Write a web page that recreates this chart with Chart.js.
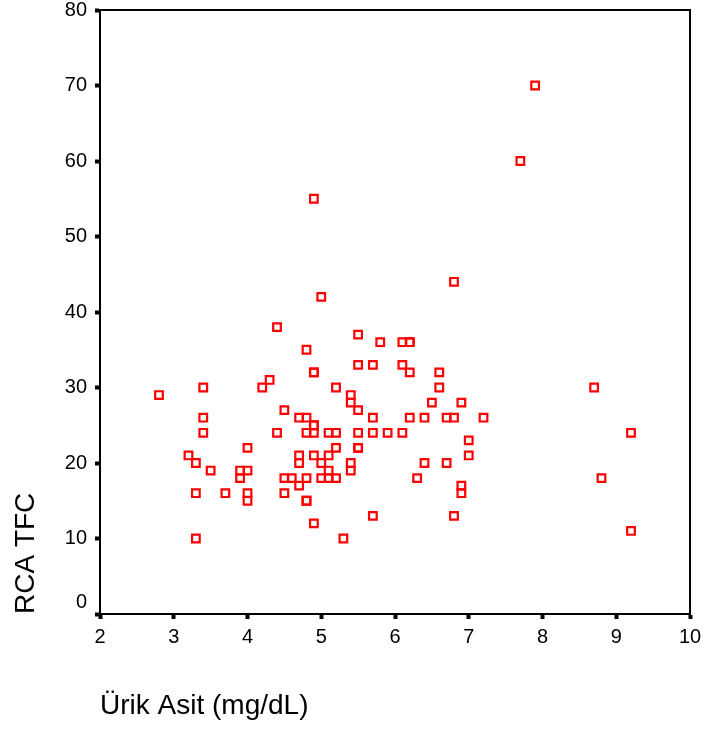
<!DOCTYPE html>
<html>
<head>
<meta charset="utf-8">
<script src="https://cdn.jsdelivr.net/npm/chart.js@4/dist/chart.umd.min.js"></script>
<style>
html,body{margin:0;padding:0;background:#fff;}
canvas{display:block;}
</style>
</head>
<body>
<canvas id="c" width="705" height="731"></canvas>
<script>
const xTitle = "Ürik Asit (mg/dL)";
const yTitle = "RCA TFC";
const xTickValues = [2,3,4,5,6,7,8,9,10];
const yTickValues = [0,10,20,30,40,50,60,70,80];

const uricAcid = [
  2.8,3.2,3.3,3.3,3.3,3.4,3.4,3.4,3.5,3.7,
  3.9,3.9,4.0,4.0,4.0,4.0,4.2,4.3,4.4,4.4,
  4.5,4.5,4.5,4.6,4.7,4.7,4.7,4.7,4.8,4.8,
  4.8,4.8,4.8,4.8,4.9,4.9,4.9,4.9,4.9,4.9,
  4.9,4.9,5.0,5.0,5.0,5.1,5.1,5.1,5.1,5.2,
  5.2,5.2,5.2,5.3,5.4,5.4,5.4,5.4,5.5,5.5,
  5.5,5.5,5.5,5.5,5.7,5.7,5.7,5.7,5.8,5.9,
  6.1,6.1,6.1,6.2,6.2,6.2,6.2,6.3,6.4,6.4,
  6.5,6.6,6.6,6.7,6.7,6.8,6.8,6.8,6.9,6.9,
  6.9,7.0,7.0,7.2,7.7,7.9,8.7,8.8,9.2,9.2
];
const rcaTfc = [
  29,21,20,16,10,30,26,24,19,16,
  19,18,22,19,16,15,30,31,38,24,
  27,18,16,18,26,21,20,17,35,26,
  24,18,15,15,55,32,32,25,25,24,
  21,12,42,20,18,24,21,19,18,30,
  24,22,18,10,29,28,20,19,37,33,
  27,24,22,22,33,26,24,13,36,24,
  36,33,24,36,36,32,26,18,26,20,
  28,32,30,26,20,44,26,13,28,17,
  16,23,21,26,60,70,30,18,24,11
];

const points = uricAcid.map((x, i) => ({x: x, y: rcaTfc[i]}));

const framePlugin = {
  id: 'frame',
  afterDraw(chart) {
    const a = chart.chartArea;
    const ctx = chart.ctx;
    ctx.save();
    ctx.strokeStyle = '#000';
    ctx.lineWidth = 2;
    ctx.strokeRect(a.left, a.top, a.right - a.left, a.bottom - a.top);
    ctx.restore();
  }
};

const FONT = "'Liberation Sans', Arial, sans-serif";

new Chart(document.getElementById('c'), {
  type: 'scatter',
  data: {
    datasets: [{
      data: points,
      pointStyle: 'rect',
      pointRadius: 5.4,
      pointBorderWidth: 2.2,
      borderColor: '#ff0000',
      backgroundColor: 'rgba(0,0,0,0)',
      pointBorderColor: '#ff0000',
      pointBackgroundColor: 'rgba(0,0,0,0)'
    }]
  },
  options: {
    responsive: false,
    animation: false,
    devicePixelRatio: 1,
    layout: { padding: 0 },
    plugins: { legend: { display: false }, tooltip: { enabled: false } },
    scales: {
      x: {
        type: 'linear',
        min: 2, max: 10,
        afterBuildTicks(scale) { scale.ticks = xTickValues.map(v => ({value: v})); },
        afterFit(scale) { scale.height = 117; scale.paddingRight = 15; scale.paddingLeft = 0; },
        ticks: { color: '#000', font: { family: FONT, size: 20 }, padding: 6, maxRotation: 0 },
        grid: { display: true, drawOnChartArea: false, drawTicks: true, tickLength: 5, tickWidth: 4, tickColor: '#000' },
        border: { display: true, color: '#000', width: 2 },
        title: { display: true, text: xTitle, align: 'start', color: '#000', font: { family: FONT, size: 28 }, padding: { top: 0, bottom: 8 } }
      },
      y: {
        type: 'linear',
        min: 0, max: 80,
        afterBuildTicks(scale) { scale.ticks = yTickValues.map(v => ({value: v})); },
        afterFit(scale) { scale.width = 100; scale.paddingTop = 10; scale.paddingBottom = 0; },
        ticks: {
          color: '#000', font: { family: FONT, size: 20 }, padding: 8,
          callback: (v) => v === 0 ? ['0', ''] : String(v)
        },
        grid: { display: true, drawOnChartArea: false, drawTicks: true, tickLength: 5, tickWidth: 4, tickColor: '#000' },
        border: { display: true, color: '#000', width: 2 },
        title: { display: true, text: yTitle, align: 'start', color: '#000', font: { family: FONT, size: 28 }, padding: { top: 9, bottom: 0 } }
      }
    }
  },
  plugins: [framePlugin]
});
</script>
</body>
</html>
